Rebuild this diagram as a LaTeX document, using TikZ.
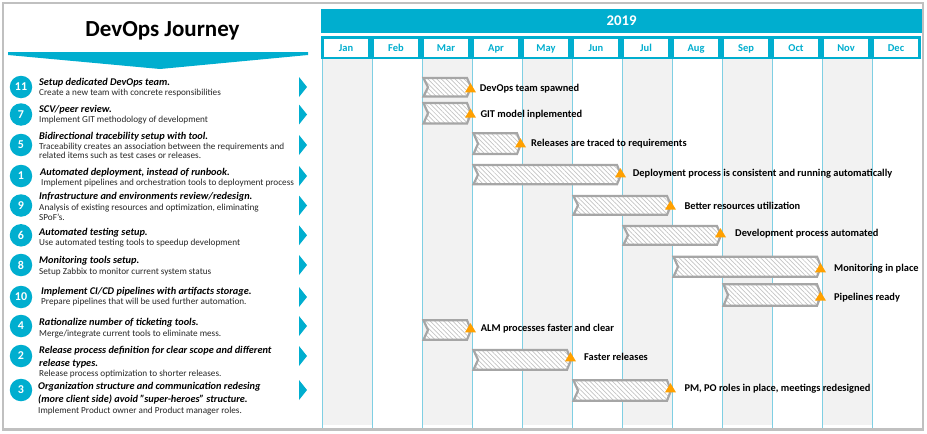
\documentclass[tikz,border=0pt]{standalone}
\usepackage{fontspec}
\setmainfont{Carlito}
\usetikzlibrary{patterns.meta}
\definecolor{cy}{HTML}{00AECF}
\definecolor{cyl}{HTML}{7FCFE3}
\definecolor{colg}{HTML}{F2F2F2}
\definecolor{frm}{HTML}{C0C0C0}
\definecolor{barg}{HTML}{A6A6A6}
\definecolor{hatchc}{HTML}{C4C4C4}
\definecolor{org}{HTML}{FFA000}
\newcommand{\gbar}[8]{%
  \draw[barshape] (#2+1.5,#4) -- (#3-5,#4) -- (#3-1,{(#4+#5)/2}) -- (#3-5,#5) -- (#2+1.5,#5) -- (#2+6,{(#4+#5)/2}) -- cycle;
  \fill[mile] (#3-1.5,#7-8.5) -- (#3+4,#7+0.7) -- (#3-7,#7+0.7) -- cycle;
  \node[lbl] (#1) at (#6,#7) {#8};}
\begin{document}
\begin{tikzpicture}[x=1pt,y=-1pt,
  ttl/.style={anchor=base west,inner sep=0pt,font=\fontsize{10.3}{12}\selectfont\bfseries\itshape},
  dsc/.style={anchor=base west,inner sep=0pt,text=black!85,font=\fontsize{9.2}{11}\selectfont},
  num/.style={circle,fill=cy,text=white,minimum size=22.5pt,inner sep=0pt,font=\fontsize{12}{12}\selectfont\bfseries},
  lbl/.style={anchor=base west,inner sep=0pt,font=\fontsize{10.4}{12}\selectfont\bfseries},
  mon/.style={anchor=base,inner sep=0pt,text=cy,font=\fontsize{10.5}{12}\selectfont\bfseries},
  monbox/.style={draw=cy,line width=2.5pt,fill=white},
  barshape/.style={draw=barg,line width=2.2pt,line join=miter,preaction={fill=white},pattern={Lines[angle=-45,distance=3.2pt,line width=0.7pt]},pattern color=hatchc},
  mile/.style={fill=org},
  pointer/.style={fill=cy}]
\useasboundingbox (0,0) rectangle (927,434);
% month columns
\foreach \i in {0,2,...,10} \fill[colg] (322+50*\i,59) rectangle (372+50*\i,425);
\foreach \i in {0,...,12} \draw[cyl,line width=0.9pt] (322+50*\i,59) -- (322+50*\i,429);
% year bar
\fill[cy] (321,9) rectangle (922,33);
\node[anchor=base,inner sep=0pt,text=white,font=\fontsize{14.8}{16}\selectfont\bfseries] (year) at (621.5,25.7) {2019};
\foreach \m [count=\k from 0] in {Jan,Feb,Mar,Apr,May,Jun,Jul,Aug,Sep,Oct,Nov,Dec}{
  \draw[monbox] (322.5+50*\k,37.25) rectangle (369.5+50*\k,57.75);
  \node[mon] (m\k) at (346+50*\k,51) {\m};}
% left panel
\node[anchor=base,inner sep=0pt,font=\fontsize{23}{24}\selectfont\bfseries] (title) at (162.5,36.7) {DevOps Journey};
\fill[cy] (8,52) -- (308,52) -- (308,55) -- (160,69) -- (8,55) -- cycle;
\foreach \c in {87,114.5,145,176,205.5,235.3,265,297,326,356,390}
  \fill[pointer] (299,\c-10) -- (307,\c) -- (299,\c+10) -- cycle;
\node[num] (c11) at (21,87) {11};
\node[num] (c7) at (21,114.5) {7};
\node[num] (c5) at (21,145) {5};
\node[num] (c1) at (21,176) {1};
\node[num] (c9) at (21,205.5) {9};
\node[num] (c6) at (21,235.3) {6};
\node[num] (c8) at (21,265) {8};
\node[num] (c10) at (21,297) {10};
\node[num] (c4) at (21,326) {4};
\node[num] (c2) at (21,356) {2};
\node[num] (c3) at (21,390) {3};
\node[ttl] (t11) at (39,85) {Setup dedicated DevOps team.};
\node[dsc] (d11) at (39,95) {Create a new team with concrete responsibilities};
\node[ttl] (t7) at (39,112.7) {SCV/peer review.};
\node[dsc] (d7) at (39,122.7) {Implement GIT methodology of development};
\node[ttl] (t5) at (39,139.5) {Bidirectional tracebility setup with tool.};
\node[dsc] (d5a) at (39,149.3) {Traceability creates an association between the requirements and};
\node[dsc] (d5b) at (39,158.7) {related items such as test cases or releases.};
\node[ttl] (t1) at (40,175) {Automated deployment, instead of runbook.};
\node[dsc] (d1) at (41,185.7) {Implement pipelines and orchestration tools to deployment process};
\node[ttl] (t9) at (39,199.3) {Infrastructure and environments review/redesign.};
\node[dsc] (d9a) at (39,210) {Analysis of existing resources and optimization, eliminating};
\node[dsc] (d9b) at (39,220) {SPoF’s.};
\node[ttl] (t6) at (39,235) {Automated testing setup.};
\node[dsc] (d6) at (39,245) {Use automated testing tools to speedup development};
\node[ttl] (t8) at (39,263.5) {Monitoring tools setup.};
\node[dsc] (d8) at (39,274) {Setup Zabbix to monitor current system status};
\node[ttl] (t10) at (41,294.3) {Implement CI/CD pipelines with artifacts storage.};
\node[dsc] (d10) at (41,304.3) {Prepare pipelines that will be used further automation.};
\node[ttl] (t4) at (39,325) {Rationalize number of ticketing tools.};
\node[dsc] (d4) at (39,336) {Merge/integrate current tools to eliminate mess.};
\node[ttl] (t2a) at (39,353.5) {Release process definition for clear scope and different};
\node[ttl] (t2b) at (39,366.7) {release types.};
\node[dsc] (d2) at (39,376.7) {Release process optimization to shorter releases.};
\node[ttl] (t3a) at (38,389.3) {Organization structure and communication redesing};
\node[ttl] (t3b) at (38,402.3) {(more client side) avoid "super-heroes" structure.};
\node[dsc] (d3) at (38,413.3) {Implement Product owner and Product manager roles.};
% gantt bars
\gbar{g1}{422}{472}{78}{96.5}{479.7}{91.7}{DevOps team spawned}
\gbar{g2}{422}{472}{103}{123.5}{480.3}{117}{GIT model inplemented}
\gbar{g3}{472}{522}{133.3}{154}{531}{146.7}{Releases are traced to requirements}
\gbar{g4}{472}{622}{165}{184.3}{632.7}{176.7}{Deployment process is consistent and running automatically}
\gbar{g5}{572}{672}{196}{214.7}{684.3}{209}{Better resources utilization}
\gbar{g6}{622}{722}{226}{244.7}{735}{236.7}{Development process automated}
\gbar{g7}{672}{822}{256.7}{276.7}{834}{271.7}{Monitoring in place}
\gbar{g8}{722}{822}{284.3}{305.7}{834}{300}{Pipelines ready}
\gbar{g9}{422}{472}{320.3}{339.7}{480.7}{331.7}{ALM processes faster and clear}
\gbar{g10}{472}{572}{350}{369.7}{584}{360.7}{Faster releases}
\gbar{g11}{572}{672}{380.3}{400.7}{684.3}{391.7}{PM, PO roles in place, meetings redesigned}
% frame
\draw[frm,line width=2.5pt] (3,3) rectangle (923,429.5);
\end{tikzpicture}
\end{document}
